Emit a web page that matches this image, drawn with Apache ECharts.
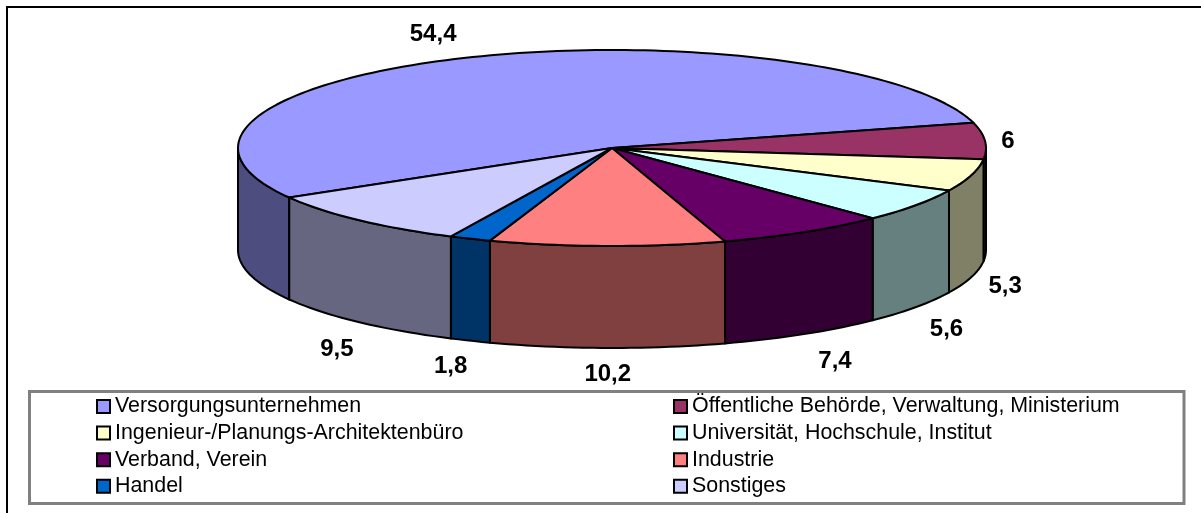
<!DOCTYPE html>
<html><head><meta charset="utf-8">
<style>html,body{margin:0;padding:0;background:#fff}#c{width:1201px;height:513px}</style>
<script src="https://cdn.jsdelivr.net/npm/echarts@6/dist/echarts.min.js"></script>
</head><body><div id="c"></div>
<script>
const categories = ['Versorgungsunternehmen','Öffentliche Behörde, Verwaltung, Ministerium','Ingenieur-/Planungs-Architektenbüro','Universität, Hochschule, Institut','Verband, Verein','Industrie','Handel','Sonstiges'];
const shares = [54.4,6,5.3,5.6,7.4,10.2,1.8,9.5];
const shareLabels = ['54,4','6','5,3','5,6','7,4','10,2','1,8','9,5'];
const topColors = ['#9999FF','#993366','#FFFFCC','#CCFFFF','#660066','#FF8080','#0066CC','#CCCCFF'];
const sideColors = ['#4D4D80','#4D1A33','#808066','#668080','#330033','#804040','#003366','#666680'];
const labelNudgeX = [-35,23,34,31,31,0.5,-19.5,-22];
const labelNudgeY = [-23,0,9,22,27,26,26,27];

const CX=612, CY=148, RX=374, RY=98, DEPTH=102, END_FIRST=75.1;
const total = shares.reduce((a,b)=>a+b,0);
const firstStart = END_FIRST - shares[0]/total*360;
const rad = d=>d*Math.PI/180;
const rim = (t,dy)=>[CX+RX*Math.sin(rad(t)), CY-RY*Math.cos(rad(t))+(dy||0)];
function arc(a,b,dy){const n=Math.max(2,Math.ceil((b-a)/1.5));const p=[];for(let i=0;i<=n;i++)p.push(rim(a+(b-a)*i/n,dy));return p;}

function makeRender(idx){
  return function(params,api){
    const value = api.value(0);
    let before = 0;
    for(let i=0;i<idx;i++) before += shares[i];
    const a = firstStart + before/total*360;
    const b = a + value/total*360;
    const line = {stroke:'#000',lineWidth:2,lineJoin:'round'};
    const children = [];
    const shift = a<0 ? 360 : 0;
    const s2 = Math.max(a+shift,90), e2 = Math.min(b+shift,270);
    if(e2>s2){
      const pts = arc(s2,e2,0).concat(arc(s2,e2,DEPTH).reverse());
      children.push({type:'polygon',shape:{points:pts},style:Object.assign({fill:sideColors[idx]},line)});
    }
    children.push({type:'polygon',shape:{points:[[CX,CY]].concat(arc(a,b,0))},style:Object.assign({fill:topColors[idx]},line)});
    const m=(a+b)/2, front=Math.cos(rad(m))<0, r=rim(m,front?DEPTH:0);
    children.push({type:'text',z2:10,style:{x:r[0]+labelNudgeX[idx],y:r[1]+labelNudgeY[idx],text:shareLabels[idx],
      font:'bold 24px "Liberation Sans", Arial, sans-serif',fill:'#000',align:'center',verticalAlign:'middle'}});
    return {type:'group',children};
  };
}

const legendBase = {orient:'vertical',icon:'rect',itemWidth:13,itemHeight:13,itemGap:5.6,padding:0,height:160,
  itemStyle:{borderColor:'#000',borderWidth:2},
  textStyle:{fontFamily:'"Liberation Sans", Arial, sans-serif',fontSize:21.4,color:'#000'},
  selectedMode:false};

const chart = echarts.init(document.getElementById('c'),null,{renderer:'canvas'});
chart.setOption({
  animation:false,
  backgroundColor:'#fff',
  graphic:[
    {type:'rect',z:-1,silent:true,shape:{x:7,y:7,width:1400,height:700},style:{fill:'#fff',stroke:'#000',lineWidth:2}},
    {type:'rect',z:-1,silent:true,shape:{x:29.5,y:391.5,width:1154.5,height:112},style:{fill:'#fff',stroke:'#808080',lineWidth:3}}
  ],
  legend:[
    Object.assign({},legendBase,{left:96,top:396,data:categories.filter((_,i)=>i%2===0)}),
    Object.assign({},legendBase,{left:673,top:396,data:categories.filter((_,i)=>i%2===1)})
  ],
  series:categories.map((name,i)=>({
    type:'custom',name,coordinateSystem:'none',clip:false,
    itemStyle:{color:topColors[i]},
    renderItem:makeRender(i),
    data:[[shares[i]]],
    encode:{value:0}
  }))
});
</script></body></html>
